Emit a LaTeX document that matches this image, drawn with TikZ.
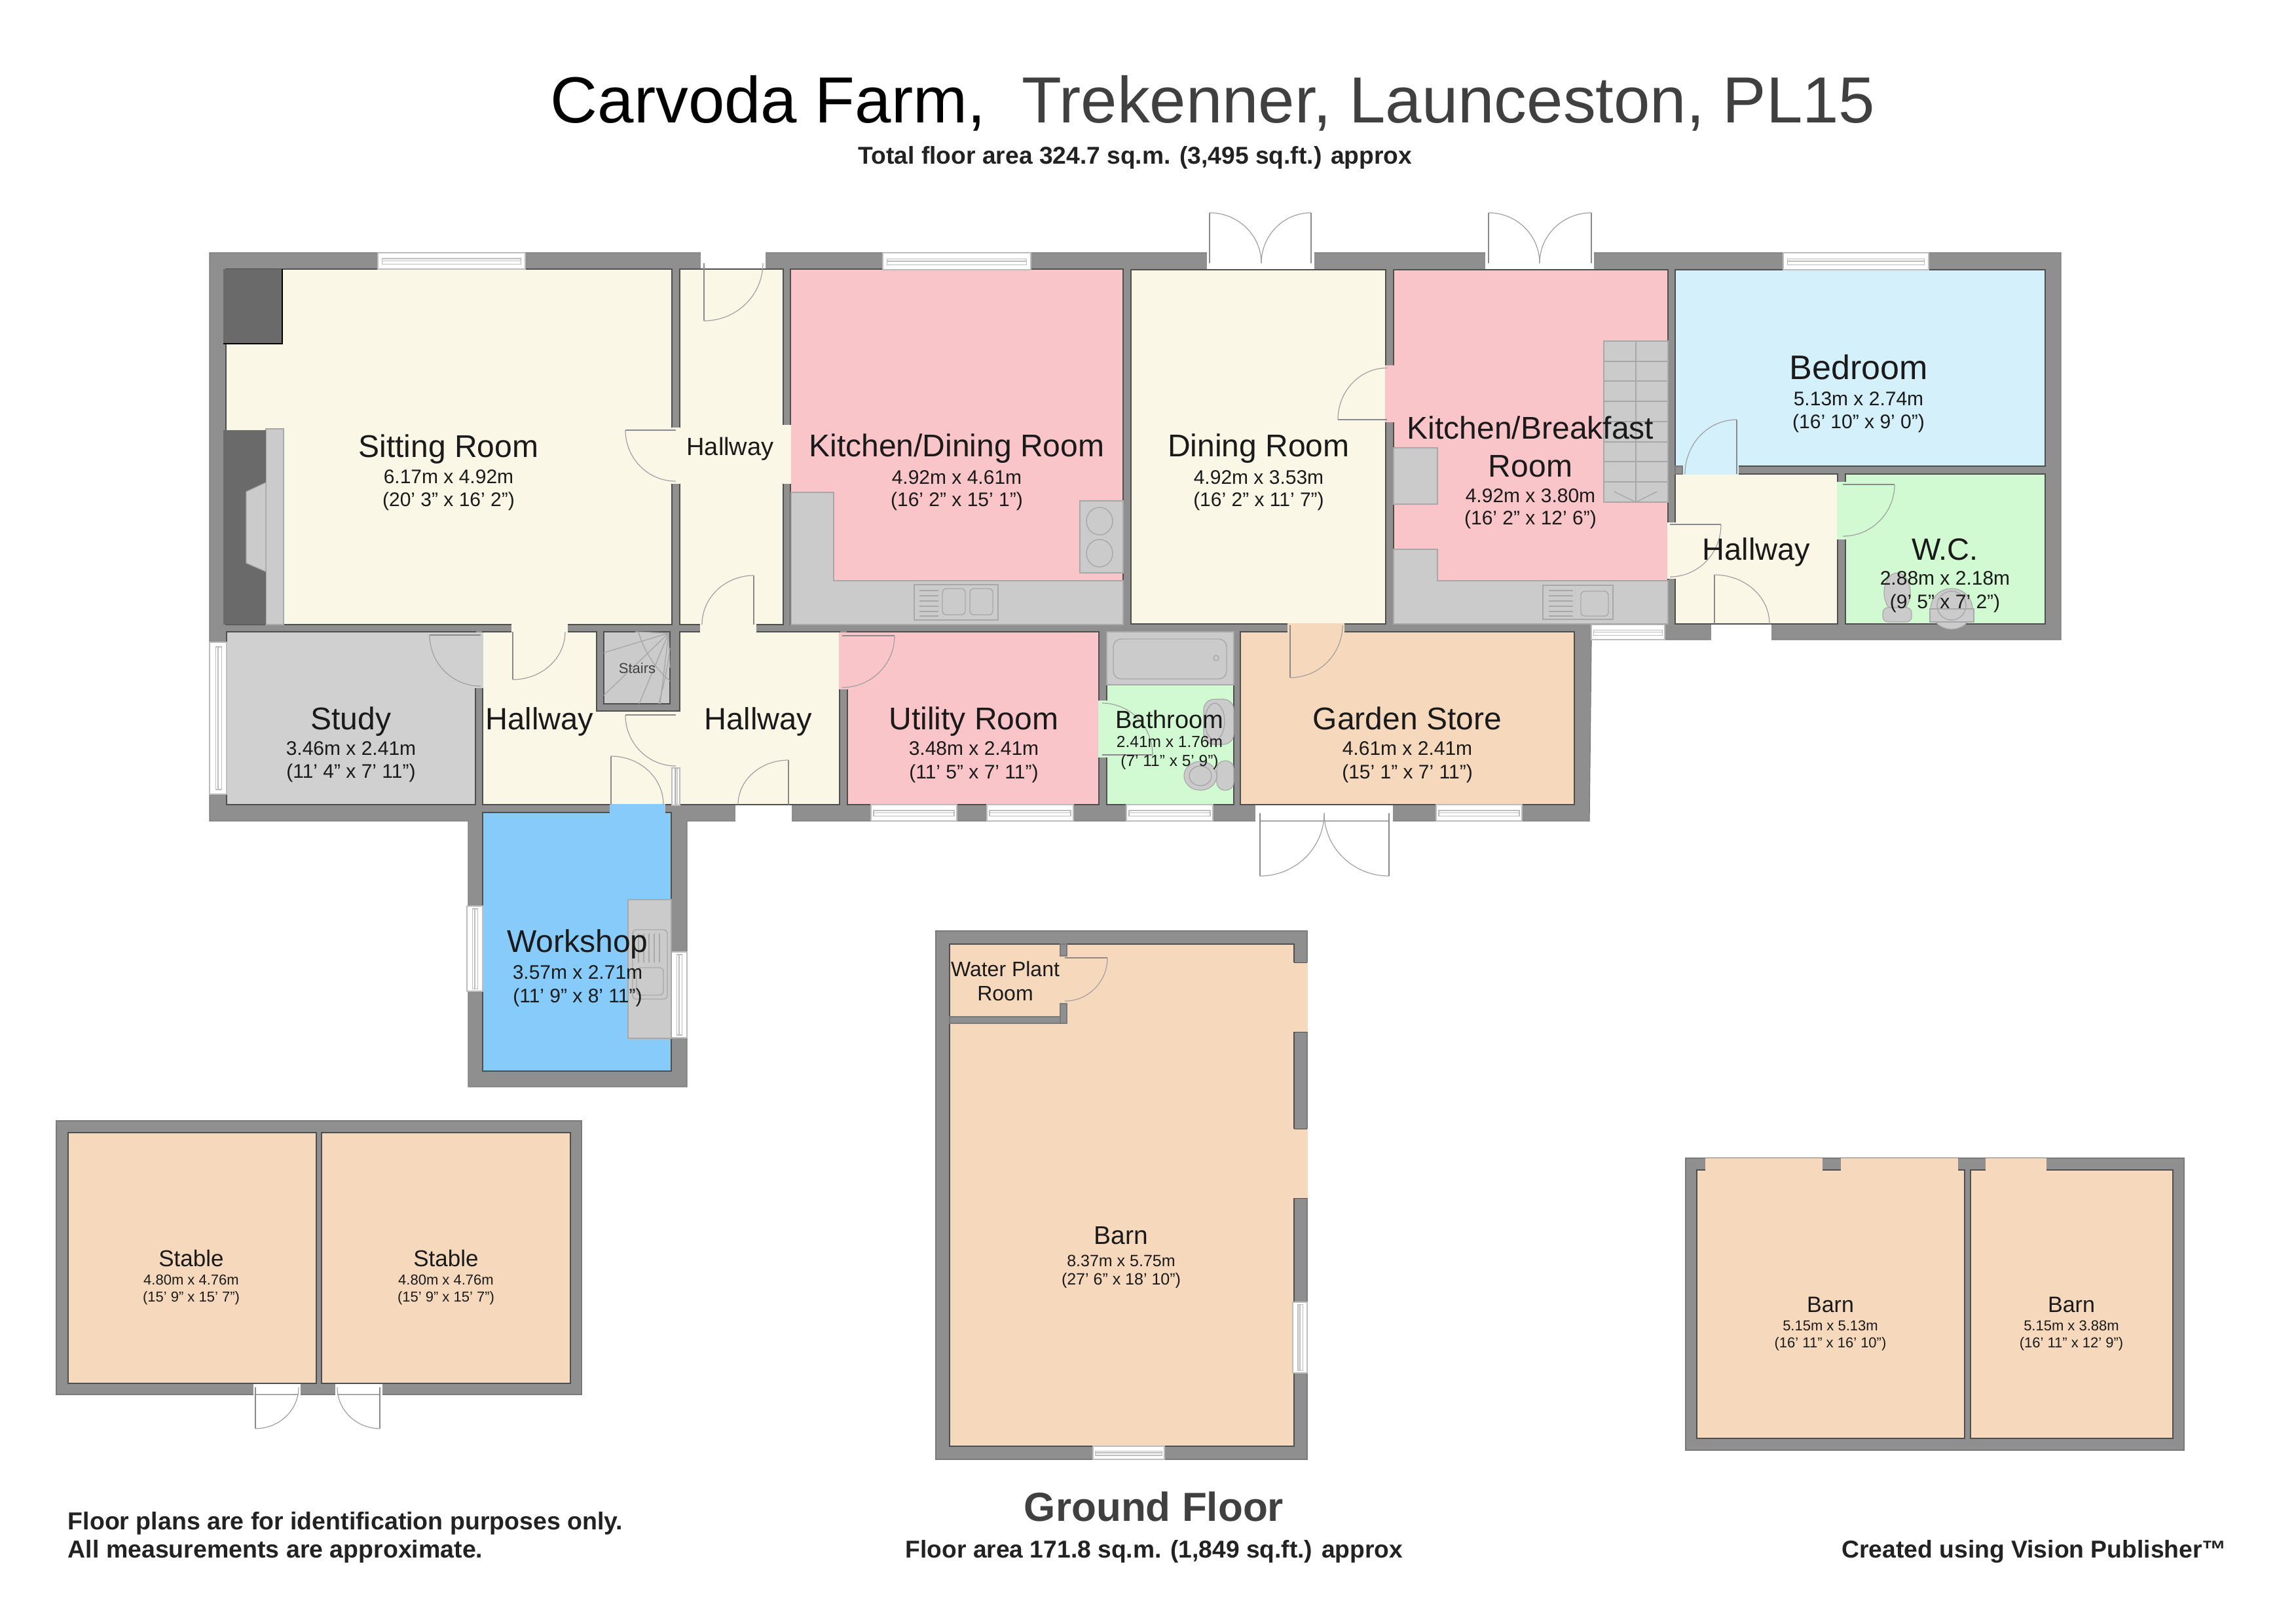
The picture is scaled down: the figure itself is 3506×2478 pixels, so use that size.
\documentclass[tikz,border=0pt]{standalone}
\usepackage{fontspec}
\setmainfont{Liberation Sans}
\usetikzlibrary{calc}
\definecolor{wallc}{HTML}{8F8F8F}
\definecolor{edgec}{HTML}{4F4F4F}
\definecolor{creamc}{HTML}{FAF7E6}
\definecolor{pinkc}{HTML}{F9C5C9}
\definecolor{bluelc}{HTML}{D4F0FA}
\definecolor{greenc}{HTML}{D2FAD2}
\definecolor{peachc}{HTML}{F6D9BD}
\definecolor{studyc}{HTML}{D0D0D0}
\definecolor{unitc}{HTML}{CBCBCB}
\definecolor{unitl}{HTML}{A8A8A8}
\definecolor{workc}{HTML}{87CBFB}
\definecolor{chimc}{HTML}{6A6A6A}
\definecolor{doorc}{HTML}{8A8A8A}
\definecolor{arcc}{HTML}{A0A0A0}
\definecolor{winl}{HTML}{BDBDBD}
\definecolor{titleg}{HTML}{404040}
\definecolor{foot}{HTML}{222222}
\definecolor{txtc}{HTML}{1A1A1A}
\newcommand\fz[1]{\fontsize{\the\dimexpr #1pt/4\relax}{\the\dimexpr #1pt/4\relax}\selectfont}
\tikzset{
  wallshape/.style={fill=wallc,draw=wallc!85!black,line width=0.3pt},
  roomshape/.style={draw=edgec,line width=0.3pt},
  unitshape/.style={fill=unitc,draw=unitl,line width=0.3pt},
  fitline/.style={draw=unitl,line width=0.35pt},
  lbl/.style={anchor=base,inner sep=0pt,text=txtc},
  winbox/.style={fill=white,draw=winl,line width=0.3pt},
  winin/.style={draw=winl,line width=0.3pt},
  leaf/.style={draw=doorc,line width=0.65pt},
  swing/.style={draw=arcc,line width=0.3pt}
}
% filled gap, no outline
\newcommand\gapfill[5]{\fill[#1] (#2,#3) rectangle (#4,#5);}
\newcommand\room[5]{\path[roomshape,fill=#1] (#2,#3) rectangle (#4,#5);}
\newcommand\wallrect[4]{\path[wallshape] (#1,#2) rectangle (#3,#4);}
% text line: id, x, baseline, size, text
\newcommand\lab[5]{\node[lbl,font=\fz{#4}] (#1) at (#2,#3) {#5};}
% horizontal and vertical windows
\newcommand\winh[4]{\path[winbox] (#1,#2) rectangle (#3,#4);
  \path[winin] ($(#1,#2)!0.03!(#3,#2)+(0,0.36*#4-0.36*#2)$) rectangle ($(#1,#4)!0.97!(#3,#4)+(0,-0.3*#4+0.3*#2)$);
  \path[winin] ($(#1,#2)!0.03!(#3,#2)+(0,0.5*#4-0.5*#2)$) -- ($(#1,#2)!0.97!(#3,#2)+(0,0.5*#4-0.5*#2)$);}
\newcommand\winv[4]{\path[winbox] (#1,#2) rectangle (#3,#4);
  \path[winin] ($(#1,#2)!0.03!(#1,#4)+(0.36*#3-0.36*#1,0)$) rectangle ($(#3,#2)!0.97!(#3,#4)+(-0.3*#3+0.3*#1,0)$);
  \path[winin] ($(#1,#2)!0.03!(#1,#4)+(0.5*#3-0.5*#1,0)$) -- ($(#1,#2)!0.97!(#1,#4)+(0.5*#3-0.5*#1,0)$);}
% door: hinge, tip of leaf, other jamb
\newcommand\door[6]{\path[leaf] (#1,#2) -- (#3,#4);
  \path[swing] (#3,#4) .. controls ($(#3,#4)+0.5523*(#5,#6)-0.5523*(#1,#2)$) and ($(#5,#6)+0.5523*(#3,#4)-0.5523*(#1,#2)$) .. (#5,#6);}
\begin{document}
\begin{tikzpicture}[x=0.25pt,y=-0.25pt]
\useasboundingbox (0,0) rectangle (3506,2478);
\fill[white] (0,0) rectangle (3506,2478);

% ---------- main house ----------
\path[wallshape] (320,386) -- (3147,386) -- (3147,977) -- (2430,977) -- (2427,1254) -- (1049,1254) -- (1049,1660) -- (715,1660) -- (715,1254) -- (320,1254) -- cycle;

\room{creamc}{345}{411}{1026}{954}
\room{creamc}{1038}{411}{1196}{954}
\room{pinkc}{1207}{411}{1715}{954}
\room{creamc}{1727}{412}{2116}{953}
\room{pinkc}{2128}{412}{2547}{953}
\room{bluelc}{2558}{412}{3123}{712}
\room{creamc}{2558}{724}{2806}{953}
\room{greenc}{2818}{724}{3123}{953}
\room{studyc}{346}{965}{726}{1229}
\path[roomshape,fill=creamc] (737,965) -- (911,965) -- (911,1086) -- (1038,1086) -- (1038,965) -- (1282,965) -- (1282,1229) -- (737,1229) -- cycle;
\room{unitc}{922}{965}{1023}{1075}
\room{pinkc}{1294}{965}{1678}{1229}
\room{greenc}{1690}{965}{1884}{1229}
\room{peachc}{1894}{965}{2404}{1229}
\room{workc}{737}{1241}{1025}{1636}

% openings between rooms
\gapfill{creamc}{1025}{653}{1039}{739}
\gapfill{creamc}{1195}{649}{1208}{739}
\gapfill{creamc}{781}{953}{867}{966}
\gapfill{creamc}{1069}{953}{1155}{966}
\gapfill{studyc}{725}{966}{738}{1051}
\gapfill{pinkc}{1281}{966}{1295}{1053}
\gapfill{workc}{931}{1228}{1016}{1242}
\gapfill{greenc}{1677}{1070}{1691}{1157}
\gapfill{peachc}{1966}{952}{2053}{966}
\gapfill{pinkc}{2115}{558}{2129}{645}
\gapfill{creamc}{2546}{798}{2559}{884}
\gapfill{greenc}{2805}{736}{2819}{824}
\gapfill{bluelc}{2570}{711}{2655}{725}
\wallrect{2558}{712}{2569}{724}
% wall column between the lower hallways
\gapfill{creamc}{1023}{1087}{1040}{1173}

% outside doors (white openings)
\gapfill{white}{1070}{385}{1169}{410}
\gapfill{white}{1843}{385}{2007}{411}
\gapfill{white}{2268}{385}{2434}{411}
\gapfill{white}{1123}{1230}{1209}{1256}
\gapfill{white}{2613}{954}{2705}{979}
\gapfill{white}{1917}{1230}{2127}{1256}
\draw[fitline] (1924,1254) -- (2121,1254);

% windows
\winh{577}{386}{802}{411}
\winh{1348}{386}{1574}{412}
\winh{2723}{386}{2945}{412}
\winh{2430}{954}{2542}{977}
\winh{1330}{1229}{1461}{1254}
\winh{1507}{1229}{1639}{1254}
\winh{1720}{1229}{1852}{1254}
\winh{2193}{1229}{2324}{1254}
\winv{320}{981}{346}{1213}
\winv{1026}{1173}{1038}{1230}
\winv{713}{1384}{737}{1514}
\winv{1025}{1454}{1049}{1585}

% fireplaces
\fill[chimc] (341,411) rectangle (431,525);
\draw[black,line width=0.5pt] (431,411) -- (431,525) -- (341,525);
\path[fill=unitc,draw=unitl,line width=0.3pt] (406,655) -- (433,655) -- (433,954) -- (406,954) -- cycle;
\fill[chimc] (341,657) rectangle (406,954);
\path[fill=unitc,draw=unitl,line width=0.3pt] (406,737) -- (376,751) -- (376,860) -- (406,873) -- cycle;

% stairs under hallway
\foreach \ex/\ey in {922/997,922/1062,976/1075,1008/1075,1023/1020,970/965}{
  \draw[fitline] (1021,967) -- (\ex,\ey);}
\draw[fitline] (975,965) .. controls (985,1000) and (1005,1025) .. (1023,1040);
\draw[fitline] (1023,990) .. controls (1018,1030) and (1012,1050) .. (1006,1075);

% kitchen / dining fittings
\path[unitshape] (1208,752) -- (1273,752) -- (1273,887) -- (1715,887) -- (1715,954) -- (1208,954) -- cycle;
\path[unitshape] (1649,765) rectangle (1715,875);
\draw[fitline] (1679,796) ellipse [x radius=20,y radius=21];
\draw[fitline] (1679,845) ellipse [x radius=20,y radius=21];
\path[unitshape] (1396,893) rectangle (1524,947);
\draw[fitline,rounded corners=1.5pt] (1439,899) rectangle (1474,939);
\draw[fitline,rounded corners=1.5pt] (1481,899) rectangle (1516,939);
\foreach \yy in {902,910,918,926,934,941}{\draw[fitline] (1404,\yy) -- (1433,\yy);}

% kitchen / breakfast fittings
\path[unitshape] (2128,684) rectangle (2195,770);
\path[unitshape] (2128,839) -- (2195,839) -- (2195,887) -- (2547,887) -- (2547,953) -- (2128,953) -- cycle;
\path[unitshape] (2356,894) rectangle (2463,946);
\draw[fitline,rounded corners=1.5pt] (2414,903) rectangle (2456,941);
\foreach \yy in {902,910,918,926,934,941}{\draw[fitline] (2365,\yy) -- (2402,\yy);}
\path[unitshape] (2449,521) rectangle (2547,767);
\draw[fitline] (2498,521) -- (2498,767);
\foreach \yy in {552,582,613,644,675,705,736}{\draw[fitline] (2449,\yy) -- (2547,\yy);}
\draw[fitline] (2465,751) -- (2498,767) -- (2530,751);

% bathroom fittings
\path[unitshape] (1690,965) rectangle (1884,1046);
\draw[fitline,rounded corners=3pt] (1700,976) rectangle (1873,1037);
\draw[fitline] (1857,1005) circle (4);
\path[unitshape,rounded corners=4pt] (1838,1068) rectangle (1884,1137);
\draw[fitline] (1855,1102) ellipse [x radius=15,y radius=28];
\path[unitshape,rounded corners=3pt] (1858,1162) rectangle (1884,1207);
\path[unitshape] (1833,1185) ellipse [x radius=25,y radius=22];
\draw[fitline] (1833,1185) ellipse [x radius=17,y radius=15];

% W.C. fittings
\path[unitshape] (2897,905) ellipse [x radius=20,y radius=30];
\path[unitshape,rounded corners=2pt] (2875,928) rectangle (2919,950);
\path[unitshape] (2980,930) ellipse [x radius=32,y radius=31];
\path[unitshape] (2947,930) rectangle (3014,950);
\draw[fitline] (2980,925) ellipse [x radius=22,y radius=22];

% workshop fittings
\path[unitshape] (959,1374) rectangle (1025,1586);
\draw[fitline,rounded corners=1.5pt] (966,1420) rectangle (1019,1526);
\foreach \xx in {975,983,991,999,1007}{\draw[fitline] (\xx,1426) -- (\xx,1470);}
\draw[fitline,rounded corners=1.5pt] (972,1478) rectangle (1013,1520);

% doors
\door{1075}{402}{1075}{490}{1165}{402}
\door{1032}{657}{955}{657}{1032}{735}
\door{1151}{954}{1151}{879}{1072}{954}
\door{734}{970}{656}{970}{734}{1048}
\door{783}{965}{783}{1038}{863}{965}
\door{1032}{1092}{955}{1092}{1032}{1170}
\door{933}{1229}{933}{1155}{1013}{1229}
\door{1204}{1229}{1204}{1161}{1127}{1229}
\door{1286}{971}{1366}{971}{1286}{1050}
\door{1683}{1153}{1760}{1153}{1683}{1074}
\door{1970}{955}{1970}{1035}{2050}{955}
\door{2118}{641}{2043}{641}{2118}{562}
\door{1847}{402}{1847}{325}{1926}{402}
\door{2002}{402}{2002}{325}{1926}{402}
\door{2273}{402}{2273}{325}{2351}{402}
\door{2430}{402}{2430}{325}{2351}{402}
\door{2550}{801}{2628}{801}{2550}{881}
\door{2652}{724}{2652}{641}{2573}{724}
\door{2814}{740}{2893}{740}{2814}{819}
\door{2618}{953}{2618}{878}{2702}{953}
\door{1924}{1242}{1924}{1338}{2022}{1242}
\door{2121}{1242}{2121}{1338}{2022}{1242}

% ---------- large barn ----------
\path[wallshape] (1429,1422) rectangle (1996,2229);
\room{peachc}{1450}{1442}{1976}{2209}
\wallrect{1450}{1553}{1629}{1563}
\wallrect{1619}{1442}{1629}{1460}
\wallrect{1619}{1533}{1629}{1563}
\gapfill{peachc}{1975}{1470}{1997}{1576}
\gapfill{peachc}{1975}{1724}{1997}{1830}
\draw[edgec,line width=0.25pt] (1976,1442) -- (1976,1470) -- (1996,1470);
\draw[edgec,line width=0.25pt] (1996,1576) -- (1976,1576) -- (1976,1724) -- (1996,1724);
\draw[edgec,line width=0.25pt] (1996,1830) -- (1976,1830) -- (1976,1989);
\winv{1974}{1989}{1996}{2097}
\winh{1669}{2209}{1778}{2229}
\door{1626}{1463}{1691}{1463}{1626}{1529}

% ---------- stables ----------
\path[wallshape] (86,1712) rectangle (888,2130);
\room{peachc}{104}{1730}{483}{2113}
\room{peachc}{491}{1730}{871}{2113}
\gapfill{white}{387}{2114}{459}{2131}
\gapfill{white}{512}{2114}{584}{2131}
\draw[fitline] (390,2130) -- (456,2130);
\draw[fitline] (515,2130) -- (580,2130);
\door{390}{2119}{390}{2182}{456}{2119}
\door{580}{2119}{580}{2182}{515}{2119}

% ---------- small barns ----------
\path[wallshape] (2574,1769) rectangle (3335,2215);
\room{peachc}{2591}{1787}{3000}{2197}
\room{peachc}{3009}{1787}{3318}{2197}
\gapfill{peachc}{2604}{1769}{2783}{1788}
\gapfill{peachc}{2811}{1769}{2990}{1788}
\gapfill{peachc}{3032}{1769}{3125}{1788}

% ---------- texts ----------
\node[anchor=base west,inner sep=0pt,font=\fz{99.6}] (title) at (840,187) {Carvoda Farm,\ \ \textcolor{titleg}{Trekenner, Launceston, PL15}};
\node[anchor=base west,inner sep=0pt,font=\fz{37.2}\bfseries,text=foot] (total) at (1310,250) {Total floor area 324.7 sq.m. (3,495 sq.ft.) approx};

\lab{sit}{685}{698}{48}{Sitting Room}
\lab{sita}{685}{738}{30}{6.17m x 4.92m}
\lab{sitb}{685}{773}{30}{(20' 3" x 16' 2")}
\lab{hallt}{1115}{695}{38}{Hallway}
\lab{kit}{1461}{697}{48}{Kitchen/Dining Room}
\lab{kita}{1461}{739}{30}{4.92m x 4.61m}
\lab{kitb}{1461}{773}{30}{(16' 2" x 15' 1")}
\lab{din}{1922}{697}{48}{Dining Room}
\lab{dina}{1922}{739}{30}{4.92m x 3.53m}
\lab{dinb}{1922}{773}{30}{(16' 2" x 11' 7")}
\lab{kbr}{2337}{670}{48}{Kitchen/Breakfast}
\lab{kbr2}{2337}{728}{48}{Room}
\lab{kbra}{2337}{767}{30}{4.92m x 3.80m}
\lab{kbrb}{2337}{801}{30}{(16' 2" x 12' 6")}
\lab{bed}{2838}{579}{52}{Bedroom}
\lab{beda}{2838}{619}{30}{5.13m x 2.74m}
\lab{bedb}{2838}{654}{30}{(16' 10" x 9' 0")}
\lab{hallr}{2682}{855}{47}{Hallway}
\lab{wc}{2970}{855}{47}{W.C.}
\lab{wca}{2970}{893}{30}{2.88m x 2.18m}
\lab{wcb}{2970}{929}{30}{(9' 5" x 7' 2")}
\lab{stu}{536}{1114}{48}{Study}
\lab{stua}{536}{1153}{30}{3.46m x 2.41m}
\lab{stub}{536}{1188}{30}{(11' 4" x 7' 11")}
\lab{halll}{824}{1114}{47}{Hallway}
\lab{hallm}{1158}{1114}{47}{Hallway}
\lab{stairs}{973}{1028}{22}{\textcolor{titleg}{Stairs}}
\lab{uti}{1487}{1114}{48}{Utility Room}
\lab{utia}{1487}{1153}{30}{3.48m x 2.41m}
\lab{utib}{1487}{1189}{30}{(11' 5" x 7' 11")}
\lab{bat}{1786}{1112}{38}{Bathroom}
\lab{bata}{1786}{1141}{24.5}{2.41m x 1.76m}
\lab{batb}{1786}{1170}{24.5}{(7' 11" x 5' 9")}
\lab{gar}{2149}{1114}{48}{Garden Store}
\lab{gara}{2149}{1153}{30}{4.61m x 2.41m}
\lab{garb}{2149}{1189}{30}{(15' 1" x 7' 11")}
\lab{wor}{882}{1454}{48}{Workshop}
\lab{wora}{882}{1495}{30}{3.57m x 2.71m}
\lab{worb}{882}{1531}{30}{(11' 9" x 8' 11")}
\lab{wat}{1535}{1491}{32}{Water Plant}
\lab{wat2}{1535}{1528}{32}{Room}
\lab{bar}{1712}{1900}{39}{Barn}
\lab{bara}{1712}{1934}{25}{8.37m x 5.75m}
\lab{barb}{1712}{1962}{25}{(27' 6" x 18' 10")}
\lab{stb}{292}{1934}{35}{Stable}
\lab{stba}{292}{1962}{22}{4.80m x 4.76m}
\lab{stbb}{292}{1988}{22}{(15' 9" x 15' 7")}
\lab{stc}{681}{1934}{35}{Stable}
\lab{stca}{681}{1962}{22}{4.80m x 4.76m}
\lab{stcb}{681}{1988}{22}{(15' 9" x 15' 7")}
\lab{bsa}{2795}{2004}{34}{Barn}
\lab{bsaa}{2795}{2032}{22}{5.15m x 5.13m}
\lab{bsab}{2795}{2058}{22}{(16' 11" x 16' 10")}
\lab{bsb}{3163}{2004}{34}{Barn}
\lab{bsba}{3163}{2032}{22}{5.15m x 3.88m}
\lab{bsbb}{3163}{2058}{22}{(16' 11" x 12' 9")}

\node[anchor=base,inner sep=0pt,font=\fz{62}\bfseries,text=titleg] (ground) at (1762,2323) {Ground Floor};
\node[anchor=base west,inner sep=0pt,font=\fz{37.2}\bfseries,text=foot] (area) at (1382,2379) {Floor area 171.8 sq.m. (1,849 sq.ft.) approx};
\node[anchor=base west,inner sep=0pt,font=\fz{37.5}\bfseries,text=foot] (note1) at (103,2336) {Floor plans are for identification purposes only.};
\node[anchor=base west,inner sep=0pt,font=\fz{37.5}\bfseries,text=foot] (note2) at (103,2379) {All measurements are approximate.};
\node[anchor=base east,inner sep=0pt,font=\fz{37.3}\bfseries,text=foot] (made) at (3401,2379) {Created using Vision Publisher™};
\end{tikzpicture}
\end{document}
